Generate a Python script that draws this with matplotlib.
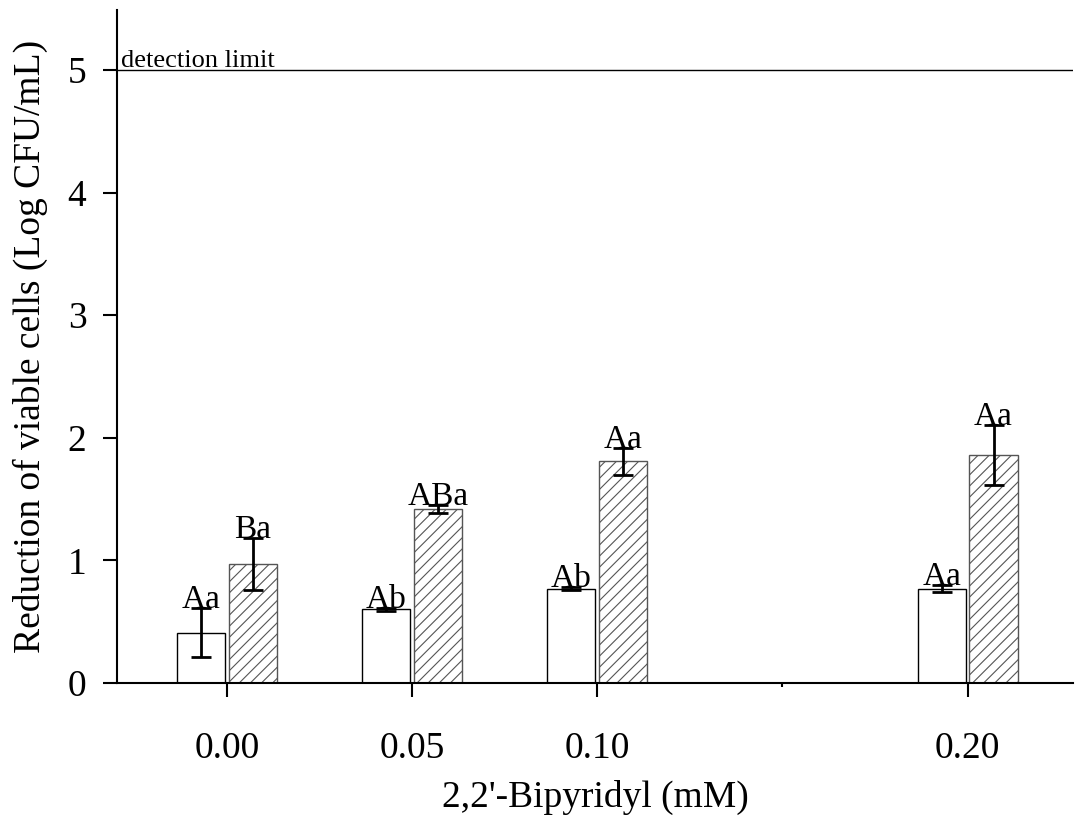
import matplotlib
matplotlib.use("Agg")
import matplotlib.pyplot as plt
from matplotlib.ticker import FixedLocator
import numpy as np

plt.rcParams["font.family"] = ["Liberation Serif", "DejaVu Serif"]
plt.rcParams["hatch.linewidth"] = 0.8

# data
conc = np.array([0.00, 0.05, 0.10, 0.20])
tick_labels = ["0.00", "0.05", "0.10", "0.20"]
white_mean = [0.41, 0.60, 0.77, 0.77]
white_err = [0.20, 0.01, 0.01, 0.03]
hatch_mean = [0.97, 1.42, 1.81, 1.86]
hatch_err = [0.21, 0.03, 0.11, 0.245]
white_letters = ["Aa", "Ab", "Ab", "Aa"]
hatch_letters = ["Ba", "ABa", "Aa", "Aa"]
detection_limit = 5

w = 0.013
gap = 0.0005

fig = plt.figure(figsize=(10.78, 8.19), dpi=100)
ax = fig.add_axes([0.1085, 0.166, 0.887, 0.822])

xw = conc - gap - w / 2
xh = conc + gap + w / 2

ax.bar(xw, white_mean, width=w, color="white", edgecolor="black", linewidth=1)
ax.bar(xh, hatch_mean, width=w, color="white", edgecolor="#555555",
       linewidth=1, hatch="///")

ax.errorbar(xw, white_mean, yerr=white_err, fmt="none", ecolor="black",
            elinewidth=2, capsize=7, capthick=2)
ax.errorbar(xh, hatch_mean, yerr=hatch_err, fmt="none", ecolor="black",
            elinewidth=2, capsize=7, capthick=2)

for x, m, e, t in zip(xw, white_mean, white_err, white_letters):
    ax.text(x, m + e, t, ha="center", va="baseline", fontsize=24)
for x, m, e, t in zip(xh, hatch_mean, hatch_err, hatch_letters):
    ax.text(x, m + e, t, ha="center", va="baseline", fontsize=24)

ax.axhline(detection_limit, color="black", linewidth=1)
ax.text(-0.0285, detection_limit + 0.02, "detection limit", fontsize=19,
        ha="left", va="baseline")

ax.set_xlim(-0.0297, 0.2285)
ax.set_ylim(0, 5.49)

ax.set_xticks(conc)
ax.set_xticklabels(tick_labels)
ax.xaxis.set_minor_locator(FixedLocator([0.15]))
ax.set_yticks([0, 1, 2, 3, 4, 5])

ax.tick_params(axis="x", which="major", direction="out", length=10, width=1.5,
               pad=25, labelsize=27)
ax.tick_params(axis="x", which="minor", direction="out", length=3, width=1.5)
ax.tick_params(axis="y", direction="out", length=10, width=1.5, pad=12,
               labelsize=27)

for s in ["top", "right"]:
    ax.spines[s].set_visible(False)
for s in ["left", "bottom"]:
    ax.spines[s].set_linewidth(1.5)

ax.set_xlabel("2,2'-Bipyridyl (mM)", fontsize=27, labelpad=10)
ax.set_ylabel("Reduction of viable cells (Log CFU/mL)", fontsize=27, labelpad=14)

fig.savefig("out.png", dpi=100)
